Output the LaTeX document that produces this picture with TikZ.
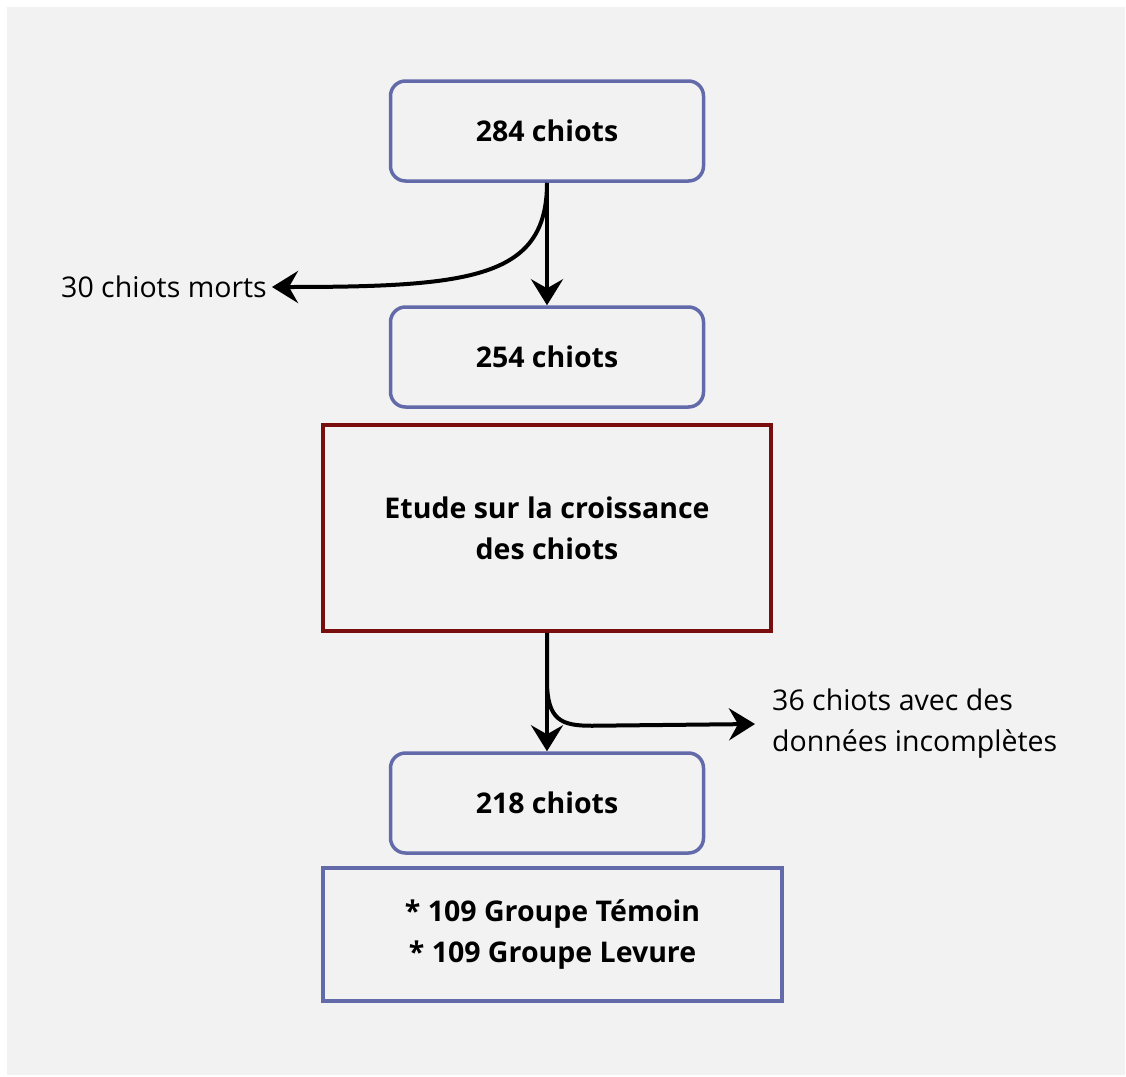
\documentclass[tikz,border=0pt]{standalone}
\usepackage{fontspec}
\setmainfont{Open Sans}
\usepackage{xcolor}
\usepackage{tikz}
\usetikzlibrary{arrows.meta}

\definecolor{boxblue}{RGB}{98,106,170}
\definecolor{boxred}{RGB}{120,14,14}
\definecolor{bggrey}{RGB}{242,242,242}

\tikzset{
  flowbox/.style={draw=boxblue, line width=3.5pt, rounded corners=15pt,
    minimum width=313pt, minimum height=100pt, font=\fontsize{28.5}{41}\selectfont\bfseries},
  bigbox/.style={draw=#1, line width=3.5pt, align=center,
    font=\fontsize{28.5}{41}\selectfont\bfseries},
  outlabel/.style={inner sep=0pt, align=left, font=\fontsize{28.5}{41}\selectfont},
  arr/.style={line width=4pt, -{Stealth[length=26pt,width=32pt,inset=9pt]}}
}

\begin{document}
\begin{tikzpicture}[x=1pt,y=-1pt]
  \useasboundingbox (0,0) rectangle (1126,1076);
  \fill[white] (0,0) rectangle (1126,1076);
  \fill[bggrey] (7,7) rectangle (1125,1075);

  \node[flowbox] (n284) at (547,131) {284 chiots};
  \node[flowbox] (n254) at (547,357) {254 chiots};
  \node[bigbox=boxred, minimum width=448pt, minimum height=206pt] (etude) at (547,528)
    {Etude sur la croissance\\des chiots};
  \node[flowbox] (n218) at (547,803) {218 chiots};
  \node[bigbox=boxblue, minimum width=459pt, minimum height=133pt] (groupes) at (552.5,934.5)
    {* 109 Groupe Témoin\\* 109 Groupe Levure};

  \node[outlabel, anchor=east, inner xsep=5pt] (morts) at (272,287) {30 chiots morts};
  \node[outlabel, anchor=west, inner xsep=17pt] (incomplets) at (755,724)
    {36 chiots avec des\\données incomplètes};

  \draw[arr] (n284.south) -- (n254.north);
  \draw[arr] (n284.south) .. controls +(0,95) and +(200,0) .. (morts.east);
  \draw[arr] (etude.south) -- (n218.north);
  \draw[arr] (etude.south) -- ++(0,48) .. controls +(0,40) and +(-30,0) .. ++(45,45)
    -- (incomplets.west);
\end{tikzpicture}
\end{document}
